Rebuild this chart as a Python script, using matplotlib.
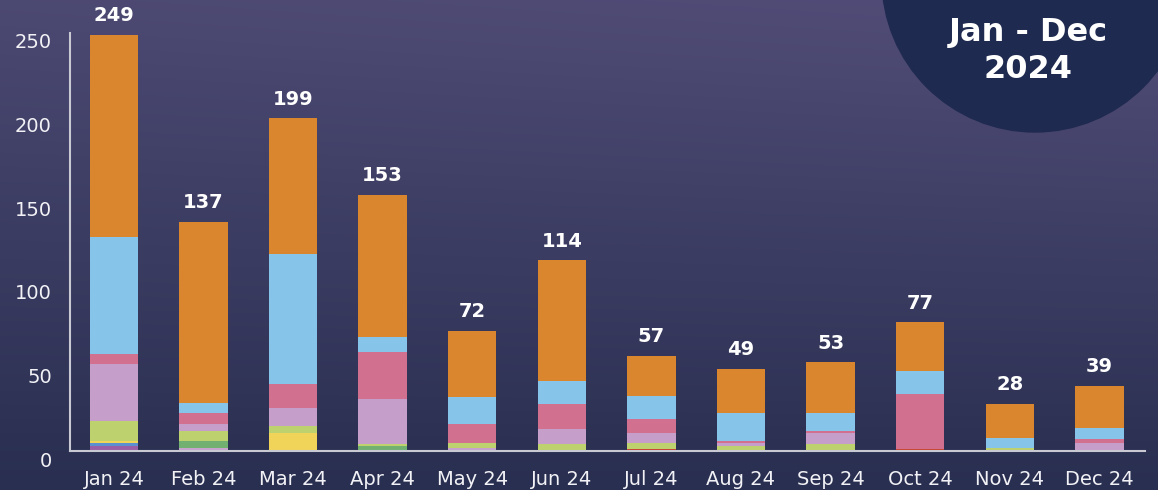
import matplotlib
matplotlib.use("Agg")

import numpy as np
import matplotlib.pyplot as plt
from matplotlib.patches import Circle
from matplotlib.transforms import ScaledTranslation

plt.rcParams["font.family"] = ["DejaVu Sans"]

months = ["Jan 24", "Feb 24", "Mar 24", "Apr 24", "May 24", "Jun 24",
          "Jul 24", "Aug 24", "Sep 24", "Oct 24", "Nov 24", "Dec 24"]

# stacked segments, bottom to top
seg_red = [0, 0, 0, 0, 0, 0, 1, 0, 0, 1, 0, 0]
seg_purple = [3, 0, 0, 0, 0, 0, 0, 0, 0, 0, 0, 0]
seg_lavender = [0, 2, 0, 0, 2, 0, 0, 0, 0, 0, 0, 0]
seg_blue = [2, 0, 0, 0, 0, 0, 0, 0, 0, 0, 0, 0]
seg_yellow = [1, 0, 11, 0, 0, 0, 0, 0, 0, 0, 0, 0]
seg_green = [0, 4, 0, 3, 0, 0, 0, 0, 0, 0, 0, 0]
seg_lime = [12, 6, 4, 1, 3, 4, 4, 3, 4, 0, 2, 0]
seg_lilac = [34, 4, 11, 27, 0, 9, 6, 2, 7, 0, 0, 5]
seg_pink = [6, 7, 14, 28, 11, 15, 8, 1, 1, 33, 0, 2]
seg_lightblue = [70, 6, 78, 9, 16, 14, 14, 17, 11, 14, 6, 7]
seg_orange = [121, 108, 81, 85, 40, 72, 24, 26, 30, 29, 20, 25]

segments = [
    (seg_red, "#c8432f"),
    (seg_purple, "#9a5ea6"),
    (seg_lavender, "#c6a4cc"),
    (seg_blue, "#5b8fd0"),
    (seg_yellow, "#f0d45a"),
    (seg_green, "#72b072"),
    (seg_lime, "#bdd26f"),
    (seg_lilac, "#c59fc9"),
    (seg_pink, "#d27090"),
    (seg_lightblue, "#86c4ea"),
    (seg_orange, "#d9862f"),
]

W, H = 1158, 490
fig = plt.figure(figsize=(W / 100, H / 100), dpi=100)

# background gradient + circle badge
bg = fig.add_axes([0, 0, 1, 1], zorder=0)
yy, xx = np.mgrid[0:1:200j, 0:1:400j]
top = np.array([0x52, 0x4d, 0x78]) / 255
bottom = np.array([0x29, 0x2f, 0x50]) / 255
t = np.clip((1 - yy) * 0.85 + xx * 0.15 * (1 - yy), 0, 1)[..., None]
img = bottom + (top - bottom) * t
bg.imshow(img, extent=[0, W, H, 0], aspect="auto")
bg.add_patch(Circle((1035, -21), 153, color="#1f2a50"))
bg.text(1028, 33, "Jan - Dec", color="white", fontsize=23, fontweight="bold",
        ha="center", va="center")
bg.text(1028, 70, "2024", color="white", fontsize=23, fontweight="bold",
        ha="center", va="center")
bg.set_xlim(0, W)
bg.set_ylim(H, 0)
bg.axis("off")

ax = fig.add_axes([70 / W, (H - 451) / H, (1145 - 70) / W, (451 - 33) / H], zorder=1)
ax.set_facecolor("none")

x = np.arange(len(months))
base = np.zeros(len(months))
for vals, color in segments:
    ax.bar(x, vals, 0.54, bottom=base, color=color, linewidth=0, zorder=2)
    base += np.array(vals)

for xi, total in zip(x, base):
    ax.annotate(f"{int(total)}", (xi, total), xytext=(0, 7), textcoords="offset points",
                ha="center", va="bottom", color="white", fontsize=14, fontweight="bold")

ax.set_xlim(-0.49, 11.51)
ax.set_ylim(0, 250)
ax.set_xticks(x)
ax.set_xticklabels(months)
ax.set_yticks([0, 50, 100, 150, 200, 250])

for side in ["top", "right"]:
    ax.spines[side].set_visible(False)
for side in ["left", "bottom"]:
    ax.spines[side].set_color("#c9c9d4")
    ax.spines[side].set_linewidth(1.5)
    ax.spines[side].set_zorder(3)

ax.tick_params(axis="both", length=0, colors="#f2f2f6", labelsize=14)
ax.tick_params(axis="x", pad=14)
ax.tick_params(axis="y", pad=13)

# y labels sit a bit lower than their ticks in the original
shift = ScaledTranslation(0, -8 / 100, fig.dpi_scale_trans)
for label in ax.get_yticklabels():
    label.set_transform(label.get_transform() + shift)

plt.savefig("out.png", dpi=100)
